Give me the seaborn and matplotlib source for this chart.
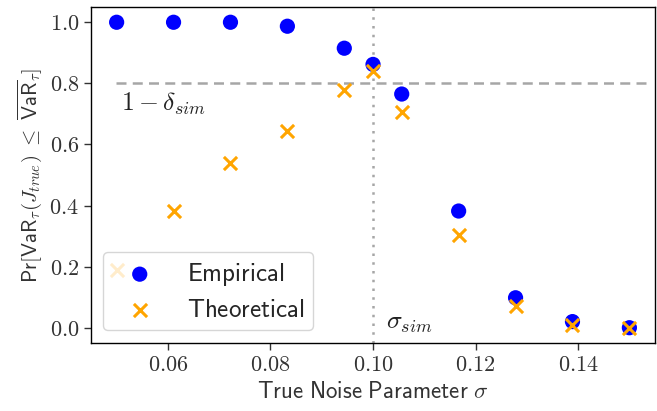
import matplotlib
matplotlib.use("Agg")
import matplotlib.pyplot as plt
import numpy as np
import pandas as pd
import seaborn as sns
from matplotlib.ticker import FuncFormatter

# ── Data ──────────────────────────────────────────────────────────────────────
sigma_true = [0.05, 0.0611, 0.0722, 0.0833, 0.0944, 0.1, 0.1056, 0.1167, 0.1278, 0.1389, 0.15]
empirical = [1.0, 1.0, 1.0, 0.987, 0.915, 0.862, 0.765, 0.382, 0.098, 0.02, 0.0]
theoretical = [0.19, 0.382, 0.539, 0.644, 0.778, 0.84, 0.706, 0.304, 0.072, 0.01, 0.0]
one_minus_delta = 0.8
sigma_sim = 0.1

df = pd.DataFrame({"sigma": sigma_true, "emp": empirical, "theo": theoretical})

sns.set_style("ticks")
plt.rcParams["mathtext.fontset"] = "cm"
plt.rcParams["axes.linewidth"] = 1.0

fig, ax = plt.subplots(figsize=(6.57, 4.11), dpi=100)
fig.subplots_adjust(left=0.1385, right=0.997, top=0.983, bottom=0.1655)

sns.scatterplot(data=df, x="sigma", y="emp", ax=ax, color="blue", marker="o",
                s=120, edgecolor="none", label=r"$\mathsf{Empirical}$", zorder=3)
sns.scatterplot(data=df, x="sigma", y="theo", ax=ax, color="orange", marker="x",
                s=90, linewidth=2.2, label=r"$\mathsf{Theoretical}$", zorder=4)

ax.axhline(one_minus_delta, xmin=0.045, xmax=0.99, color="#a6a6a6", ls=(0, (4, 2.5)), lw=1.8, zorder=1)
ax.axvline(sigma_sim, color="#a6a6a6", ls=(0, (1, 2.5)), lw=1.8, zorder=1)

ax.text(0.0508, 0.775, r"$1-\delta_{sim}$", fontsize=18.5, va="top", ha="left", color="#222222")
ax.text(0.1025, 0.02, r"$\sigma_{sim}$", fontsize=18.5, va="center", ha="left", color="#222222")

ax.set_xlabel(r"$\mathsf{True\ Noise\ Parameter}\ \sigma$", fontsize=16.5, color="#333333")
ax.set_ylabel(r"$\mathsf{Pr}[\mathsf{VaR}_\tau(J_{true})\ \leq\ \overline{\mathsf{VaR}}_\tau]$",
              fontsize=15, color="#333333")

ax.set_xticks([0.06, 0.08, 0.10, 0.12, 0.14])
ax.set_yticks([0.0, 0.2, 0.4, 0.6, 0.8, 1.0])
ax.xaxis.set_major_formatter(FuncFormatter(lambda v, p: f"${v:.2f}$"))
ax.yaxis.set_major_formatter(FuncFormatter(lambda v, p: f"${v:.1f}$"))
ax.tick_params(labelsize=16, length=5, width=1, colors="#333333", labelcolor="#333333")
for sp in ax.spines.values():
    sp.set_color("black")

ax.legend(loc="lower left", fontsize=18, framealpha=0.8, handlelength=2.2,
          handletextpad=0.8, borderaxespad=0.5, labelspacing=0.4, borderpad=0.35)

fig.savefig("out.png", dpi=100)
